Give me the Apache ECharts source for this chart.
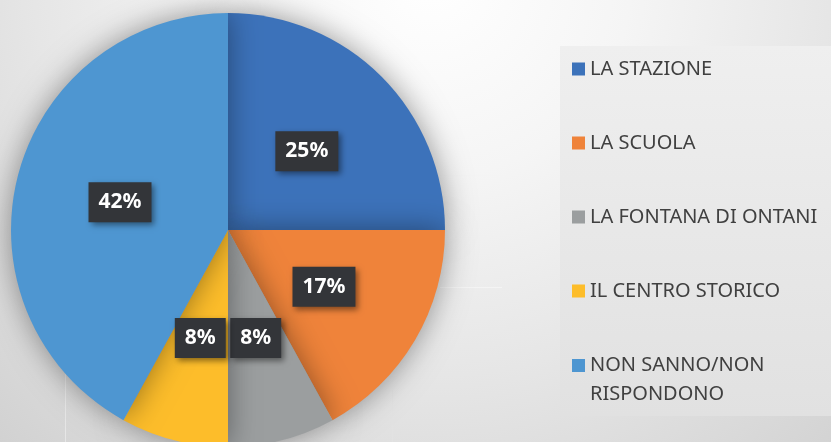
<!DOCTYPE html>
<html>
<head>
<meta charset="utf-8">
<script src="https://cdn.jsdelivr.net/npm/echarts@6/dist/echarts.min.js"></script>
<style>
  html, body { margin: 0; padding: 0; }
  #chart { width: 831px; height: 442px; }
</style>
</head>
<body>
<div id="chart"></div>
<script>
// dati
const categories = ['LA STAZIONE', 'LA SCUOLA', 'LA FONTANA DI ONTANI', 'IL CENTRO STORICO', 'NON SANNO/NON RISPONDONO'];
const percentages = [25, 17, 8, 8, 42];

const palette = ['#3C72BA', '#EF833A', '#9B9E9F', '#FDBD2A', '#4E96D1'];

const chart = echarts.init(document.getElementById('chart'));

const legendText = {
  color: '#404040',
  fontSize: 20,
  fontFamily: 'Noto Sans',
  lineHeight: 24
};

const options = {
  animation: false,
  color: palette,
  graphic: [
    {
      // sfondo sfumato
      type: 'rect',
      z: -10,
      silent: true,
      shape: { x: 0, y: 0, width: 831, height: 442 },
      style: {
        fill: {
          type: 'radial', x: 0.52, y: -0.05, r: 1.5,
          colorStops: [
            { offset: 0, color: '#ffffff' },
            { offset: 0.3, color: '#f5f5f5' },
            { offset: 0.6, color: '#e6e6e6' },
            { offset: 1, color: '#cfcfcf' }
          ]
        }
      }
    },
    {
      // riquadro legenda
      type: 'rect',
      z: -9,
      silent: true,
      shape: { x: 560, y: 46, width: 271, height: 370 },
      style: {
        fill: {
          type: 'linear', x: 0, y: 0, x2: 0, y2: 1,
          colorStops: [
            { offset: 0, color: '#efefef' },
            { offset: 1, color: '#e1e1e1' }
          ]
        }
      }
    },
    // linee di griglia molto tenui
    { type: 'line', z: -8, silent: true, shape: { x1: 65.5, y1: 370, x2: 65.5, y2: 442 }, style: { stroke: '#e6e6e6', lineWidth: 1 } },
    { type: 'line', z: -8, silent: true, shape: { x1: 392.5, y1: 390, x2: 392.5, y2: 442 }, style: { stroke: '#e2e2e2', lineWidth: 1 } },
    { type: 'line', z: -8, silent: true, shape: { x1: 440, y1: 175.5, x2: 502, y2: 175.5 }, style: { stroke: '#f4f4f4', lineWidth: 1 } },
    { type: 'line', z: -8, silent: true, shape: { x1: 440, y1: 287.5, x2: 502, y2: 287.5 }, style: { stroke: '#f4f4f4', lineWidth: 1 } }
  ],
  legend: [
    {
      orient: 'vertical',
      left: 572,
      top: 57,
      padding: 0,
      itemWidth: 13,
      itemHeight: 13,
      itemGap: 50,
      icon: 'rect',
      data: categories.slice(0, 4),
      textStyle: legendText
    },
    {
      orient: 'vertical',
      left: 572,
      top: 322,
      padding: 0,
      itemWidth: 13,
      itemHeight: 13,
      icon: 'rect',
      data: categories.slice(4),
      // riga vuota in testa: l'icona resta allineata alla prima riga
      formatter: (name) => ' \n' + name.replace('/NON ', '/NON\n'),
      textStyle: { ...legendText, lineHeight: 29 }
    }
  ],
  series: [
    {
      type: 'pie',
      center: [228, 230],
      radius: 217,
      startAngle: 90,
      clockwise: true,
      avoidLabelOverlap: false,
      itemStyle: {
        shadowBlur: 30,
        shadowColor: 'rgba(0,0,0,0.4)'
      },
      label: {
        show: true,
        position: 'inside',
        formatter: '{c}%',
        color: '#ffffff',
        fontSize: 21,
        fontWeight: 'bold',
        fontFamily: 'Noto Sans',
        lineHeight: 22,
        backgroundColor: '#333539',
        padding: [9, 10],
        shadowColor: 'rgba(0,0,0,0.45)',
        shadowBlur: 6,
        shadowOffsetX: 3,
        shadowOffsetY: 3
      },
      labelLine: { show: false },
      emphasis: { disabled: true },
      data: categories.map((name, i) => ({ name: name, value: percentages[i] }))
    }
  ]
};

chart.setOption(options);
</script>
</body>
</html>
